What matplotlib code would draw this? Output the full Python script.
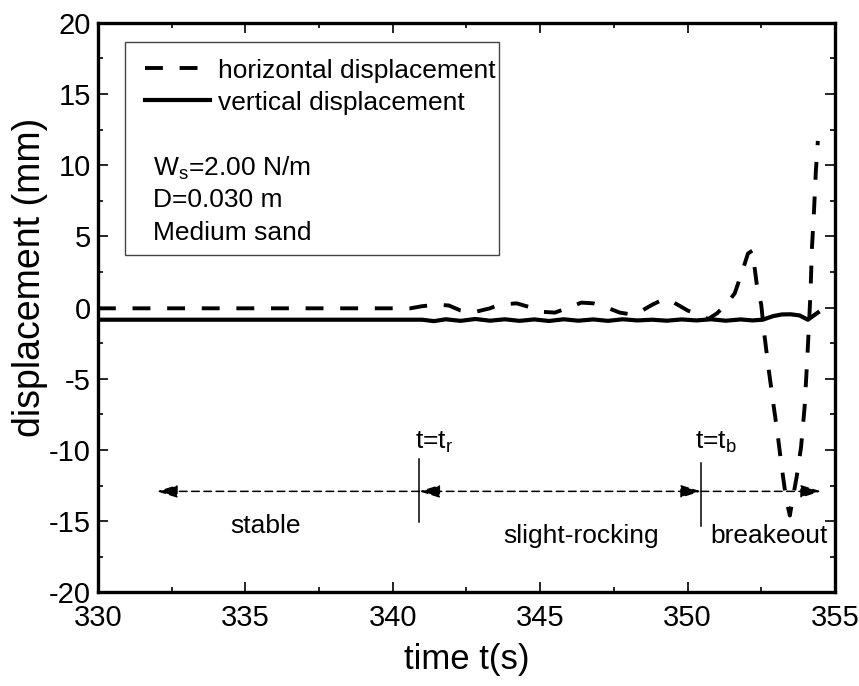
import matplotlib
matplotlib.use("Agg")
import matplotlib.pyplot as plt
from matplotlib.patches import Rectangle

plt.rcParams['font.family'] = ['Liberation Sans', 'DejaVu Sans']
plt.rcParams['mathtext.fontset'] = 'custom'
plt.rcParams['mathtext.rm'] = 'Liberation Sans'
plt.rcParams['axes.unicode_minus'] = False

# horizontal displacement (dashed)
t_h = [330, 332, 334, 336, 338, 340, 340.6, 341.0, 341.5, 341.9, 342.3, 342.8,
       343.3, 343.6, 344.2, 344.7, 345.1, 345.5, 345.9, 346.4, 346.8, 347.2,
       347.7, 348.0, 348.3, 348.8, 349.2, 349.5, 350.0, 350.4, 350.7, 351.0,
       351.3, 351.6, 351.85, 352.05, 352.2, 352.35, 352.5, 352.6, 352.75,
       352.9, 353.05, 353.2, 353.35, 353.47, 353.55, 353.7, 353.85, 353.97,
       354.05, 354.1, 354.17, 354.22, 354.29, 354.35, 354.42]
d_h = [-0.05, -0.05, -0.05, -0.05, -0.05, -0.05, -0.05, 0.1, 0.2, 0.15, -0.2, -0.3,
       -0.05, 0.2, 0.3, 0.0, -0.3, -0.35, -0.05, 0.35, 0.3, 0.05,
       -0.35, -0.45, -0.4, 0.2, 0.6, 0.4, -0.2, -0.55, -0.8, -0.4,
       0.2, 1.0, 2.5, 3.8, 4.0, 1.6, 0.2, -1.8, -4.3,
       -6.6, -8.8, -11.3, -13.5, -14.6, -13.6, -11.9, -9.8, -7.0,
       -4.0, -2.0, 1.0, 4.2, 6.8, 9.5, 11.7]

# vertical displacement (solid)
t_v = [330, 335, 340, 341.0, 341.4, 341.8, 342.3, 342.8, 343.3, 343.8, 344.3,
       344.8, 345.3, 345.8, 346.3, 346.8, 347.3, 347.8, 348.3, 348.8, 349.3,
       349.8, 350.3, 350.8, 351.3, 351.8, 352.2, 352.55, 352.9, 353.2, 353.5,
       353.8, 354.08, 354.25, 354.42]
d_v = [-0.85, -0.85, -0.85, -0.85, -0.95, -0.82, -0.93, -0.8, -0.92, -0.82, -0.93,
       -0.83, -0.94, -0.82, -0.92, -0.83, -0.93, -0.82, -0.9, -0.85, -0.92,
       -0.83, -0.9, -0.82, -0.92, -0.83, -0.9, -0.85, -0.6, -0.48, -0.47,
       -0.55, -0.85, -0.6, -0.35]

t_start = 332.0
t_r = 340.9
t_b = 350.46
t_end = 354.53
arrow_y = -12.9

fig = plt.figure(figsize=(8.59, 6.86), dpi=100)
ax = fig.add_axes([0.114, 0.1363, 0.858, 0.8306])

ax.plot(t_h, d_h, color='k', lw=2.8, linestyle=(0, (4.6, 4.3)),
        label='horizontal displacement')
ax.plot(t_v, d_v, color='k', lw=3.0, label='vertical displacement')

# phase arrows
ap = dict(color='k', lw=1.1, linestyle=(0, (5, 3)), shrinkA=0, shrinkB=0,
          mutation_scale=14)
ax.annotate('', xy=(t_start, arrow_y), xytext=(t_r, arrow_y),
            arrowprops=dict(arrowstyle='-|>,head_length=0.9,head_width=0.28', **ap))
ax.annotate('', xy=(t_b, arrow_y), xytext=(t_r, arrow_y),
            arrowprops=dict(arrowstyle='<|-|>,head_length=0.9,head_width=0.28', **ap))
ax.annotate('', xy=(t_end, arrow_y), xytext=(t_b, arrow_y),
            arrowprops=dict(arrowstyle='-|>,head_length=0.9,head_width=0.28', **ap))
ax.plot([t_r, t_r], [-10.66, -15.04], color='k', lw=1.1)
ax.plot([t_b, t_b], [-10.9, -15.3], color='k', lw=1.1)

fs = 19
ax.text(t_r - 0.15, -9.9, r't=t$_\mathrm{r}$', fontsize=fs, va='baseline')
ax.text(t_b - 0.2, -9.9, r't=t$_\mathrm{b}$', fontsize=fs, va='baseline')
ax.text(335.7, -15.3, 'stable', fontsize=fs, ha='center', va='center')
ax.text(346.4, -16.0, 'slight-rocking', fontsize=fs, ha='center', va='center')
ax.text(352.75, -16.0, 'breakeout', fontsize=fs, ha='center', va='center')

# legend box with parameters
ax.add_patch(Rectangle((0.0366, 0.592), 0.507, 0.374, transform=ax.transAxes,
                       fill=False, edgecolor='#444444', lw=1.0, zorder=3))
ax.legend(loc='upper left', bbox_to_anchor=(0.064, 0.937), frameon=False,
          fontsize=fs, handlelength=2.45, handletextpad=0.3, borderpad=0,
          labelspacing=0.3, borderaxespad=0)
ax.text(0.0746, 0.7325, r'W$_\mathrm{s}$=2.00 N/m', transform=ax.transAxes,
        fontsize=fs, va='baseline')
ax.text(0.0746, 0.676, 'D=0.030 m', transform=ax.transAxes, fontsize=fs,
        va='baseline')
ax.text(0.0746, 0.618, 'Medium sand', transform=ax.transAxes, fontsize=fs,
        va='baseline')

ax.set_xlim(330, 355)
ax.set_ylim(-20, 20)
ax.set_xticks([330, 335, 340, 345, 350, 355])
ax.set_xticks([332.5, 337.5, 342.5, 347.5, 352.5], minor=True)
ax.set_yticks([-20, -15, -10, -5, 0, 5, 10, 15, 20])
ax.set_yticks([-17.5, -12.5, -7.5, -2.5, 2.5, 7.5, 12.5, 17.5], minor=True)
ax.tick_params(which='both', direction='in', top=True, right=True, width=1.2,
               labelsize=21)
ax.tick_params(which='major', length=7, pad=5)
ax.tick_params(axis='x', which='major', pad=8)
ax.tick_params(which='minor', length=3.6)
for s in ax.spines.values():
    s.set_linewidth(2.4)

ax.set_xlabel('time t(s)', fontsize=25)
ax.xaxis.set_label_coords(0.5, -0.088)
ax.set_ylabel('displacement (mm)', fontsize=27)
ax.yaxis.set_label_coords(-0.068, 0.553)

fig.savefig('out.png', dpi=100)
